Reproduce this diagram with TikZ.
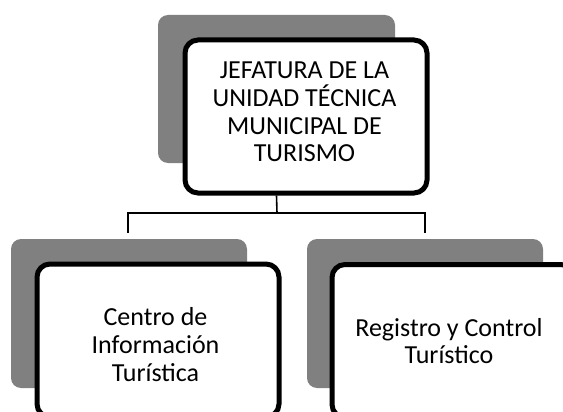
\documentclass[tikz,border=0pt]{standalone}
\usepackage{fontspec}
\setmainfont{Carlito}
\begin{document}
\begin{tikzpicture}[x=1pt,y=-1pt,
  shadowbox/.style={fill=shgray, draw=none, rounded corners=10pt, inner sep=0pt, outer sep=0pt, anchor=north west},
  mainbox/.style={fill=white, draw=black, line width=5pt, rounded corners=13pt, inner sep=0pt, anchor=north west, minimum width=242pt, minimum height=153pt},
  label/.style={align=center, font=\fontsize{26}{27.8}\selectfont, inner sep=0pt},
  conn/.style={draw=black, line width=1.6pt}]
\definecolor{shgray}{RGB}{128,128,128}
\useasboundingbox (0,0) rectangle (563,412);
% shadows
\node[shadowbox, minimum width=237pt, minimum height=148pt] (s1) at (158,15) {};
\node[shadowbox, minimum width=236pt, minimum height=149pt] (s2) at (11,239) {};
\node[shadowbox, minimum width=236pt, minimum height=149pt] (s3) at (307,239) {};
% boxes
\node[mainbox] (b1) at (182.5,37.5) {};
\node[mainbox] (b2) at (34.5,261.5) {};
\node[mainbox] (b3) at (329.5,262) {};
% texts
\node[label] (t1) at (304.5,112) {JEFATURA DE LA\\UNIDAD TÉCNICA\\MUNICIPAL DE\\TURISMO};
\node[label] (t2) at (155.5,344.5) {Centro de\\Información\\Turística};
\node[label] (t3) at (449,341) {Registro y Control\\Turístico};
% connectors
\coordinate (bus) at (277,213);
\coordinate (endL) at (128,233);
\coordinate (endR) at (425,233);
\draw[conn] (s1.center |- b1.south) -- (bus);
\draw[conn] (endL) |- (bus) -| (endR);
\end{tikzpicture}
\end{document}
